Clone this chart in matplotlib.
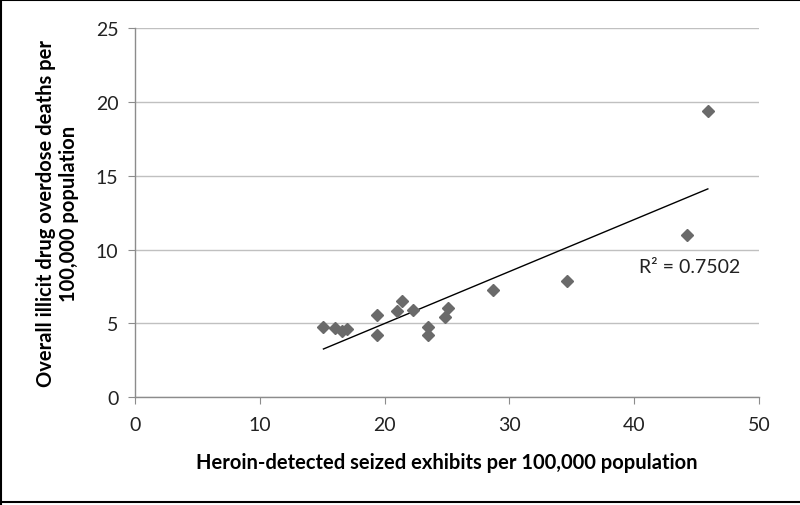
import numpy as np
import matplotlib.pyplot as plt
from matplotlib.lines import Line2D

# heroin-detected seized exhibits per 100,000 vs overdose deaths per 100,000
heroin_exhibits = [15.1, 16.0, 16.6, 17.0, 19.4, 19.4, 21.0, 21.4, 22.3,
                   23.5, 23.5, 24.8, 25.1, 28.7, 34.6, 44.2, 45.9]
overdose_deaths = [4.72, 4.66, 4.45, 4.61, 5.56, 4.23, 5.81, 6.51, 5.88,
                   4.77, 4.23, 5.45, 6.01, 7.25, 7.89, 10.96, 19.41]
r2_label = "R² = 0.7502"

x = np.array(heroin_exhibits)
y = np.array(overdose_deaths)
slope, intercept = np.polyfit(x, y, 1)

plt.rcParams['font.family'] = ['Lato', 'DejaVu Sans']

fig = plt.figure(figsize=(8, 5.06), dpi=100)
ax = fig.add_axes([0.16875, 0.2134, 0.78, 0.7286])

ax.set_xlim(0, 50)
ax.set_ylim(0, 25)
ax.set_xticks(range(0, 51, 10))
ax.set_yticks(range(0, 26, 5))

ax.grid(axis='y', color='#c0c0c0', linewidth=1.0)
ax.set_axisbelow(True)
for s in ['top', 'right']:
    ax.spines[s].set_visible(False)
for s in ['left', 'bottom']:
    ax.spines[s].set_color('#8c8c8c')
    ax.spines[s].set_linewidth(1.0)
ax.tick_params(axis='both', direction='out', length=5, color='#8c8c8c',
               labelsize=14, colors='#222222')
ax.tick_params(axis='x', pad=9)
ax.tick_params(axis='y', pad=7)

ax.plot(x, y, linestyle='none', marker='D', markersize=6,
        color='#6a6a6a', zorder=3)

xl = np.array([x.min(), x.max()])
ax.plot(xl, slope * xl + intercept, color='black', linewidth=1.0, zorder=2)

ax.text(40.4, 8.5, r2_label, fontsize=14, color='#222222')

ax.set_xlabel("Heroin-detected seized exhibits per 100,000 population",
              fontsize=14.5, fontweight='bold', labelpad=13)
ax.set_ylabel("Overall illicit drug overdose deaths per\n100,000 population",
              fontsize=14.5, fontweight='bold', labelpad=12)

# outer chart frame
for coords in [([0.001, 0.001], [0.0, 1.0]),
               ([0.0, 1.0], [0.998, 0.998]),
               ([0.0, 1.0], [0.006, 0.006])]:
    fig.add_artist(Line2D(coords[0], coords[1], color='black', linewidth=1.5,
                          transform=fig.transFigure))

fig.savefig('out.png', dpi=100)
